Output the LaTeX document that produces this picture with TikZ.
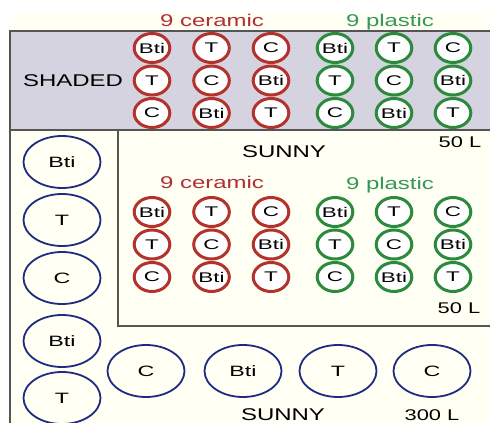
\documentclass[tikz,border=0pt]{standalone}
\usepackage{fontspec}
\setmainfont{Liberation Sans}
\usetikzlibrary{shapes.geometric}
\definecolor{cream}{HTML}{FFFFF3}
\definecolor{shadefill}{HTML}{D5D3E0}
\definecolor{frame}{HTML}{555555}
\definecolor{ringred}{HTML}{B3322B}
\definecolor{ringgreen}{HTML}{2B8A3B}
\definecolor{ringblue}{HTML}{1F2A82}
\definecolor{lblred}{HTML}{B02E38}
\definecolor{lblgreen}{HTML}{35975A}
\newcommand\sxl[1]{\scalebox{1.41}[1]{#1}}
\newcommand\sxr[1]{\makebox[0pt]{\scalebox{1.6}[1]{#1}}}
\newcommand\sxb[1]{\makebox[0pt]{\scalebox{1.55}[1]{#1}}}
\begin{document}
\begin{tikzpicture}[x=1pt,y=-1pt,
  lbl/.style={inner sep=0pt, anchor=base, font=\fontsize{17}{17}\selectfont, text=black},
  vol/.style={inner sep=0pt, anchor=base, font=\fontsize{15.5}{15.5}\selectfont, text=black},
  ring/.style={ellipse, minimum width=35.6pt, minimum height=29pt, inner sep=0pt,
    line width=3pt, fill=white, font=\fontsize{14}{14}\selectfont, text=black},
  big/.style={ellipse, minimum width=77pt, minimum height=52pt, inner sep=0pt,
    line width=1.8pt, draw=ringblue, font=\fontsize{15}{15}\selectfont, text=black},
  frm/.style={draw=frame, line width=1.6pt}]
\useasboundingbox (0,0) rectangle (490,423);
\fill[white] (0,0) rectangle (490,423);
\fill[cream] (10,12) rectangle (490,423);
\fill[shadefill] (10,31) rectangle (490,130);
\draw[frm] (490,31) -- (10,31) -- (10,423);
\draw[frm] (10,130) -- (490,130);
\draw[frm] (118,130) -- (118,326) -- (490,326);
% labels
\node[lbl, text=lblred] (tcer) at (212,26) {\sxl{9 ceramic}};
\node[lbl, text=lblgreen] (tpla) at (390,27) {\sxl{9 plastic}};
\node[lbl] (shaded) at (73,86) {\sxl{SHADED}};
\node[lbl] (sunny1) at (284,157) {\sxl{SUNNY}};
\node[vol] (vol1) at (460,147) {\sxl{50 L}};
\node[lbl, text=lblred] (scer) at (212,188) {\sxl{9 ceramic}};
\node[lbl, text=lblgreen] (spla) at (390,189) {\sxl{9 plastic}};
\node[vol] (vol2) at (459,313) {\sxl{50 L}};
\node[lbl] (sunny2) at (283,420) {\sxl{SUNNY}};
\node[vol] (vol3) at (432,420) {\sxl{300 L}};
% small rings
\foreach \lab [count=\i from 0] in {Bti,T,C,T,C,Bti,C,Bti,T}{
  \pgfmathtruncatemacro\r{\i/3}
  \pgfmathtruncatemacro\c{mod(\i,3)}
  \node[ring, draw=ringred]   (hc-\r-\c) at ({152+59.5*\c},{48+32.5*\r}) {\sxr{\lab}};
  \node[ring, draw=ringgreen] (hp-\r-\c) at ({335+59*\c},{48+32.5*\r}) {\sxr{\lab}};
  \node[ring, draw=ringred]   (uc-\r-\c) at ({152+59.5*\c},{212+32.5*\r}) {\sxr{\lab}};
  \node[ring, draw=ringgreen] (up-\r-\c) at ({335+59*\c},{212+32.5*\r}) {\sxr{\lab}};
}
% big ellipses
\node[big] (L1) at (62,162) {\sxb{Bti}};
\node[big] (L2) at (62,220) {\sxb{T}};
\node[big] (L3) at (62,278) {\sxb{C}};
\node[big] (L4) at (62,341) {\sxb{Bti}};
\node[big] (L5) at (62,398) {\sxb{T}};
\node[big] (B1) at (146,371) {\sxb{C}};
\node[big] (B2) at (243,371) {\sxb{Bti}};
\node[big] (B3) at (338,371) {\sxb{T}};
\node[big] (B4) at (432,371) {\sxb{C}};
\end{tikzpicture}
\end{document}
